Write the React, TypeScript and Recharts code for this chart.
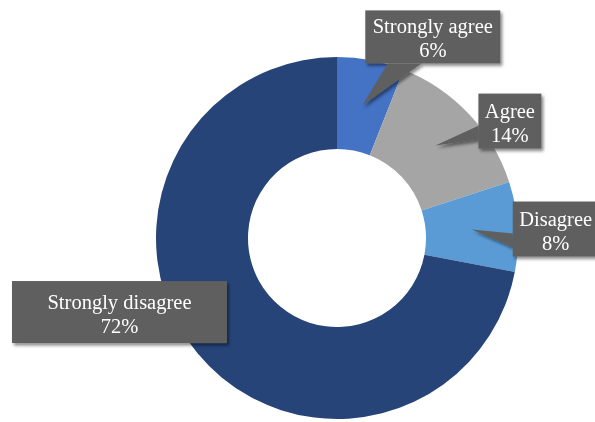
import React from 'react';
import { PieChart, Pie, Cell } from 'recharts';

const categories = ['Strongly agree', 'Agree', 'Disagree', 'Strongly disagree'];
const shares = [6, 14, 8, 72];
const sliceColors = ['#4472C4', '#A5A5A5', '#5B9BD5', '#264478'];

// callout box placement relative to the slice anchor (dx, dy of box centre, box w/h)
const callouts = [
  { dx: 70.5, dy: -68.5, w: 135, h: 53 },
  { dx: 74.5, dy: -24.5, w: 63, h: 55 },
  { dx: 84, dy: -0.5, w: 86, h: 55 },
  { dx: -113.5, dy: -12, w: 215, h: 62 },
];

const data = categories.map((name, i) => ({ name, value: shares[i] }));

const RAD = Math.PI / 180;

const renderCallout = (props: any) => {
  const { cx, cy, midAngle, innerRadius, outerRadius, index, name, value } = props;
  const r = (innerRadius + outerRadius) / 2;
  const tx = cx + r * Math.cos(-midAngle * RAD);
  const ty = cy + r * Math.sin(-midAngle * RAD);
  const c = callouts[index];
  const bx = tx + c.dx - c.w / 2;
  const by = ty + c.dy - c.h / 2;
  const bcx = bx + c.w / 2;
  const bcy = by + c.h / 2;

  // wedge like an office callout: base sits on the edge facing the tip
  let pts = '';
  const outside = tx < bx - 10 || tx > bx + c.w + 10 || ty < by - 10 || ty > by + c.h + 10;
  if (outside) {
    const ox = tx < bx ? bx - tx : tx > bx + c.w ? tx - bx - c.w : 0;
    const oy = ty < by ? by - ty : ty > by + c.h ? ty - by - c.h : 0;
    if (oy >= ox) {
      const ey = ty > bcy ? by + c.h : by;
      const [f1, f2] = tx < bcx ? [2 / 12, 5 / 12] : [7 / 12, 10 / 12];
      pts = `${bx + c.w * f1},${ey} ${tx},${ty} ${bx + c.w * f2},${ey}`;
    } else {
      const ex = tx > bcx ? bx + c.w : bx;
      const [f1, f2] = ty < bcy ? [2 / 12, 5 / 12] : [7 / 12, 10 / 12];
      pts = `${ex},${by + c.h * f1} ${tx},${ty} ${ex},${by + c.h * f2}`;
    }
  }

  return (
    <g key={`co-${index}`} filter="url(#boxShadow)">
      <rect x={bx} y={by} width={c.w} height={c.h} fill="#5f5f5f" />
      {pts && <polygon points={pts} fill="#5f5f5f" />}
      <text x={bcx} y={bcy - 3.5} textAnchor="middle" fill="#fff" fontSize={20.5} fontFamily="'Liberation Serif', 'Times New Roman', serif">
        {name}
      </text>
      <text x={bcx} y={bcy + 20.5} textAnchor="middle" fill="#fff" fontSize={20.5} fontFamily="'Liberation Serif', 'Times New Roman', serif">
        {`${value}%`}
      </text>
    </g>
  );
};

export default function App() {
  return (
    <div style={{ position: 'absolute', left: 0, top: 0, width: 595, height: 422, background: '#fff' }}>
      <PieChart width={595} height={422} margin={{ top: 0, right: 0, bottom: 0, left: 0 }}>
        <defs>
          <filter id="boxShadow" x="-10%" y="-10%" width="130%" height="140%">
            <feDropShadow dx="2" dy="2.5" stdDeviation="1.5" floodColor="#000" floodOpacity="0.45" />
          </filter>
        </defs>
        <Pie
          data={data}
          dataKey="value"
          nameKey="name"
          cx={337}
          cy={238}
          innerRadius={89}
          outerRadius={181}
          startAngle={90}
          endAngle={-270}
          stroke="none"
          labelLine={false}
          label={renderCallout}
          isAnimationActive={false}
        >
          {data.map((d, i) => (
            <Cell key={`cell-${i}`} fill={sliceColors[i]} />
          ))}
        </Pie>
      </PieChart>
    </div>
  );
}
